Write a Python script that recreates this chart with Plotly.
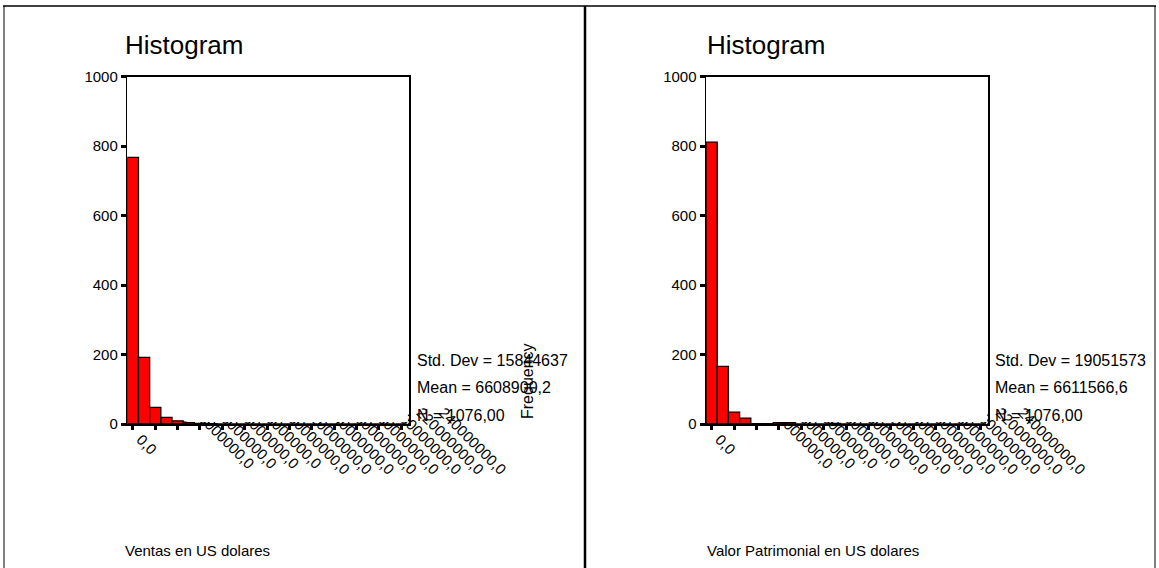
import plotly.graph_objects as go

W, H = 1159, 568

# ---------------- data ----------------
bin_centers = [i * 10_000_000 for i in range(25)]
ventas_counts = [767, 192, 48, 19, 9, 5, 2, 1, 0, 0, 0, 0, 0,
                 0, 0, 0, 0, 0, 0, 0, 0, 0, 0, 0, 0]
patrim_counts = [811, 166, 34, 17, 1, 1, 5, 5, 0, 0, 0, 2, 0,
                 0, 0, 0, 0, 0, 0, 0, 0, 0, 0, 0, 0]
x_tick_vals = [i * 20_000_000 for i in range(13)]
x_tick_text = ["0,0"] + [f"{v},0" for v in x_tick_vals[1:]]
y_tick_vals = [0, 200, 400, 600, 800, 1000]
panel_titles = ["Histogram", "Histogram"]
var_labels = ["Ventas en US dolares", "Valor Patrimonial en US dolares"]
stats_ventas = ["Std. Dev = 15844637", "Mean = 6608900,2", "N = 1076,00"]
stats_patrim = ["Std. Dev = 19051573", "Mean = 6611566,6", "N = 1076,00"]
y_title = "Frequency"
bin_width = 10_000_000

FONT = "Liberation Sans, Arial, sans-serif"
X_RANGE = [-5_000_000, 247_000_000]


def px(x):
    return x / W


def py(y):
    return 1 - y / H


fig = go.Figure()
for i, counts in enumerate([ventas_counts, patrim_counts]):
    suffix = "" if i == 0 else "2"
    fig.add_trace(go.Bar(
        x=bin_centers, y=counts, width=[bin_width] * len(bin_centers),
        marker=dict(color="#FF0000", line=dict(color="black", width=1.3)),
        xaxis="x" + suffix, yaxis="y" + suffix, showlegend=False,
    ))
# empty traces so that the overlay label axes get drawn
for xo_name, y_name in [("x3", "y"), ("x4", "y2")]:
    fig.add_trace(go.Scatter(x=[], y=[], xaxis=xo_name, yaxis=y_name,
                             showlegend=False, hoverinfo="skip"))

xdomains = [[px(127.3), px(409)], [px(706), px(988.3)]]
ydom = [py(424), py(76.5)]

for i in range(2):
    xs = "" if i == 0 else "2"
    over = "3" if i == 0 else "4"
    # main axis: tick marks + the "0,0" label
    xa = dict(
        domain=xdomains[i], range=X_RANGE,
        tickmode="array", tickvals=x_tick_vals,
        ticktext=[x_tick_text[0]] + [""] * (len(x_tick_vals) - 1),
        tickangle=45, ticks="outside", ticklen=4, tickwidth=3, tickcolor="black",
        ticklabelshift=8, ticklabelstandoff=-5,
        showline=True, linecolor="black", linewidth=2, mirror=True,
        showgrid=False, zeroline=False, automargin=False,
        tickfont=dict(family=FONT, size=15, color="black"),
        anchor="y" + xs, fixedrange=True,
    )
    # overlay axis carrying the long (partly hidden) labels, SPSS-like
    xo = dict(
        overlaying="x" + xs, anchor="y" + xs, side="bottom", range=X_RANGE,
        tickmode="array", tickvals=x_tick_vals[1:], ticktext=x_tick_text[1:],
        tickangle=45, ticks="", showline=False, showgrid=False, zeroline=False,
        ticklabelshift=42, ticklabelstandoff=-24, automargin=False,
        tickfont=dict(family=FONT, size=15, color="black"), fixedrange=True,
    )
    ya = dict(
        domain=ydom, range=[0, 1000],
        tickmode="array", tickvals=y_tick_vals,
        ticks="outside", ticklen=5, tickwidth=3, tickcolor="black",
        showline=True, linecolor="black", linewidth=1.5, mirror=True,
        showgrid=False, zeroline=False, automargin=False,
        tickfont=dict(family=FONT, size=15, color="black"),
        anchor="x" + xs, fixedrange=True,
    )
    fig.update_layout(**{"xaxis" + xs: xa, "xaxis" + over: xo, "yaxis" + xs: ya})

annotations = []
title_x = [123, 705]
stats_x = [415, 993]
for i in range(2):
    annotations.append(dict(
        text=panel_titles[i], x=px(title_x[i]), y=py(45), xref="paper", yref="paper",
        xanchor="left", yanchor="middle", showarrow=False,
        font=dict(family=FONT, size=26, color="black")))
    annotations.append(dict(
        text=var_labels[i], x=px(title_x[i]), y=py(550), xref="paper", yref="paper",
        xanchor="left", yanchor="middle", showarrow=False,
        font=dict(family=FONT, size=15, color="black")))
    stats = stats_ventas if i == 0 else stats_patrim
    for j, s in enumerate(stats):
        annotations.append(dict(
            text=s, x=px(stats_x[i]), y=py([360, 387, 415][j]), xref="paper", yref="paper",
            xanchor="left", yanchor="middle", showarrow=False,
            font=dict(family=FONT, size=16, color="black")))

annotations.append(dict(
    text=y_title, x=px(527), y=py(381), xref="paper", yref="paper",
    xanchor="center", yanchor="middle", showarrow=False, textangle=-90,
    font=dict(family=FONT, size=16, color="black")))

shapes = [
    dict(type="line", xref="paper", yref="paper", x0=px(3), x1=px(1156), y0=py(6), y1=py(6),
         line=dict(color="black", width=1.5)),
    dict(type="line", xref="paper", yref="paper", x0=px(4), x1=px(4), y0=py(6), y1=py(568),
         line=dict(color="black", width=1)),
    dict(type="line", xref="paper", yref="paper", x0=px(585), x1=px(585), y0=py(6), y1=py(568),
         line=dict(color="black", width=2.5)),
    dict(type="line", xref="paper", yref="paper", x0=px(1155), x1=px(1155), y0=py(6), y1=py(568),
         line=dict(color="black", width=1)),
]
# the plot area hides the part of the long tick labels that rises above the axis
for xs in ["", "2"]:
    shapes.append(dict(
        type="rect", xref="x" + xs, yref="y" + xs, layer="above",
        x0=48_000_000, x1=246_000_000, y0=6, y1=120,
        fillcolor="white", line=dict(width=0)))

fig.update_layout(
    width=W, height=H, margin=dict(l=0, r=0, t=0, b=0, pad=0, autoexpand=False),
    paper_bgcolor="white", plot_bgcolor="white",
    bargap=0, annotations=annotations, shapes=shapes,
    font=dict(family=FONT, color="black"),
)

fig.write_html(
    "out.html",
    config={"displayModeBar": False, "staticPlot": True},
    post_script="document.body.style.margin='0px';document.body.style.overflow='hidden';",
)
